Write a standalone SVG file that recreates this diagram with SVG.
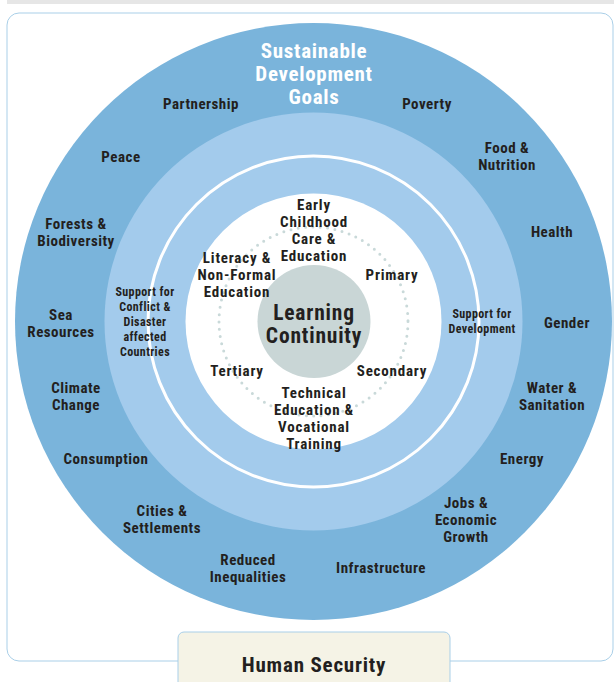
<svg xmlns="http://www.w3.org/2000/svg" width="614" height="682" viewBox="0 0 614 682">
<style>
text{font-family:"Liberation Sans Narrow","Roboto Condensed","DejaVu Sans Condensed","Liberation Sans",Arial,sans-serif;font-weight:bold;fill:#231f20;text-anchor:middle;}
.sdg{font-size:15px;letter-spacing:0.5px;}
.title{font-size:21px;letter-spacing:0.7px;fill:#ffffff;}
.sup{font-size:12px;letter-spacing:0.4px;}
.edu{font-size:15px;letter-spacing:0.8px;}
.lc{font-size:21.5px;letter-spacing:0.8px;}
.hs{font-size:21px;letter-spacing:0.8px;}
</style>
<rect x="7" y="0" width="607" height="4" fill="#e6e6e6"/>
<rect x="7" y="13" width="606" height="648" rx="12" fill="#ffffff" stroke="#a9cfe8" stroke-width="1"/>
<g id="sdg-ring">
<circle cx="313.5" cy="321.5" r="298.5" fill="#7ab4db"/>
<text class="title" x="314" y="58">Sustainable</text>
<text class="title" x="314" y="81">Development</text>
<text class="title" x="314" y="104">Goals</text>
</g>
<g id="support-ring">
<circle cx="313.5" cy="321.5" r="209" fill="#a3cbec"/>
<circle cx="313.5" cy="321.5" r="165.5" fill="none" stroke="#ffffff" stroke-width="3"/>
</g>
<g id="education-disk">
<circle cx="313.5" cy="321.5" r="128" fill="#ffffff"/>
<circle cx="313.5" cy="321.5" r="94.5" fill="none" stroke="#c9d9d9" stroke-width="3" stroke-linecap="round" stroke-dasharray="0 7.4"/>
</g>
<g id="learning-continuity">
<circle cx="314" cy="321.5" r="56.5" fill="#c9d6d6"/>
<text class="lc" x="314" y="319.5">Learning</text>
<text class="lc" x="314" y="343">Continuity</text>
</g>
<g id="partnership"><text class="sdg" x="201" y="109">Partnership</text></g>
<g id="poverty"><text class="sdg" x="427" y="109">Poverty</text></g>
<g id="peace"><text class="sdg" x="121" y="162">Peace</text></g>
<g id="food"><text class="sdg" x="507" y="153">Food &amp;</text><text class="sdg" x="507" y="170">Nutrition</text></g>
<g id="health"><text class="sdg" x="552" y="237">Health</text></g>
<g id="forests"><text class="sdg" x="76" y="229">Forests &amp;</text><text class="sdg" x="76" y="246">Biodiversity</text></g>
<g id="gender"><text class="sdg" x="567" y="328">Gender</text></g>
<g id="sea"><text class="sdg" x="61" y="320">Sea</text><text class="sdg" x="61" y="337">Resources</text></g>
<g id="water"><text class="sdg" x="552" y="393">Water &amp;</text><text class="sdg" x="552" y="410">Sanitation</text></g>
<g id="climate"><text class="sdg" x="76" y="393">Climate</text><text class="sdg" x="76" y="410">Change</text></g>
<g id="energy"><text class="sdg" x="522" y="464">Energy</text></g>
<g id="consumption"><text class="sdg" x="106" y="464">Consumption</text></g>
<g id="jobs"><text class="sdg" x="466" y="508">Jobs &amp;</text><text class="sdg" x="466" y="525">Economic</text><text class="sdg" x="466" y="542">Growth</text></g>
<g id="cities"><text class="sdg" x="162" y="516">Cities &amp;</text><text class="sdg" x="162" y="533">Settlements</text></g>
<g id="inequalities"><text class="sdg" x="248" y="565">Reduced</text><text class="sdg" x="248" y="582">Inequalities</text></g>
<g id="infrastructure"><text class="sdg" x="381" y="573">Infrastructure</text></g>
<g id="support-conflict">
<text class="sup" x="145" y="296">Support for</text>
<text class="sup" x="145" y="311">Conflict &amp;</text>
<text class="sup" x="145" y="326">Disaster</text>
<text class="sup" x="145" y="341">affected</text>
<text class="sup" x="145" y="356">Countries</text>
</g>
<g id="support-development">
<text class="sup" x="482" y="318">Support for</text>
<text class="sup" x="482" y="333">Development</text>
</g>
<g id="ecce"><text class="edu" x="314" y="210">Early</text><text class="edu" x="314" y="227">Childhood</text><text class="edu" x="314" y="244">Care &amp;</text><text class="edu" x="314" y="261">Education</text></g>
<g id="literacy"><text class="edu" x="237" y="263">Literacy &amp;</text><text class="edu" x="237" y="280">Non-Formal</text><text class="edu" x="237" y="297">Education</text></g>
<g id="primary"><text class="edu" x="392" y="280">Primary</text></g>
<g id="tertiary"><text class="edu" x="237" y="376">Tertiary</text></g>
<g id="secondary"><text class="edu" x="392" y="376">Secondary</text></g>
<g id="tvet"><text class="edu" x="314" y="398">Technical</text><text class="edu" x="314" y="415">Education &amp;</text><text class="edu" x="314" y="432">Vocational</text><text class="edu" x="314" y="449">Training</text></g>
<g id="human-security">
<rect x="178" y="632" width="272" height="60" rx="6" fill="#f5f3e6" stroke="#a9cfe8" stroke-width="1"/>
<text class="hs" x="314" y="672">Human Security</text>
</g>
<g id="connectors"/>
</svg>
